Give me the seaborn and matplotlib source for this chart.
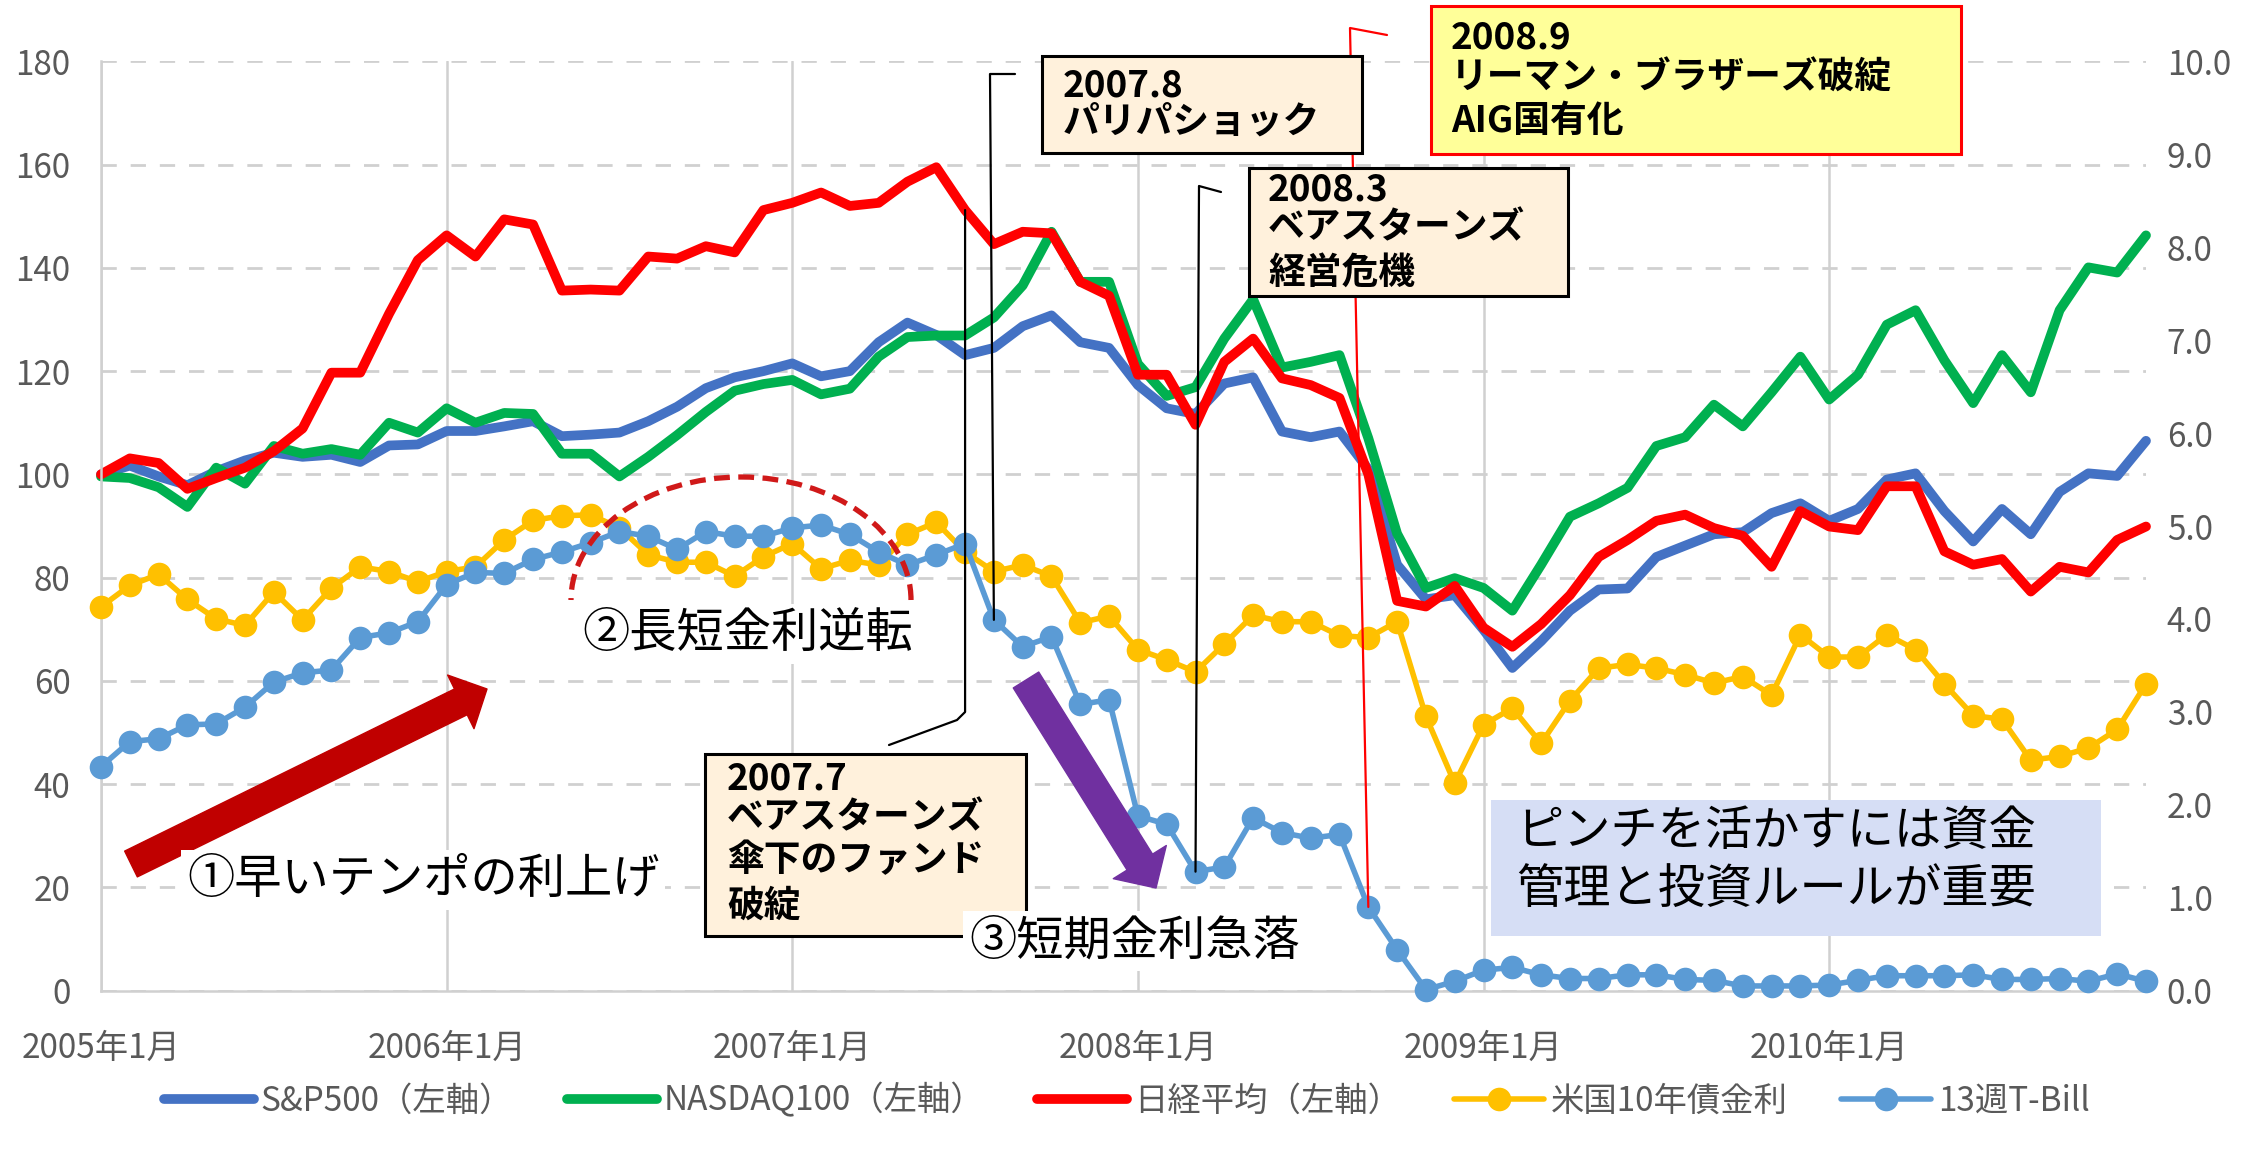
import matplotlib
matplotlib.use("Agg")
import matplotlib.pyplot as plt
from matplotlib.patches import Rectangle, Arc, FancyArrowPatch
from matplotlib.lines import Line2D
import seaborn as sns
import numpy as np

# monthly data, 2005-01 .. 2010-12 (index 0..71)
months = list(range(72))
year_ticks = [0, 12, 24, 36, 48, 60]
year_labels = ["2005年1月", "2006年1月", "2007年1月", "2008年1月", "2009年1月", "2010年1月"]

# left axis (2005-01 = 100)
sp500 = [100.0, 101.7, 99.6, 97.9, 100.6, 102.7, 104.2, 103.4, 103.8, 102.4, 105.6, 105.8,
         108.4, 108.4, 109.3, 110.3, 107.4, 107.7, 108.1, 110.3, 113.1, 116.7, 118.8, 120.0,
         121.5, 119.0, 120.0, 125.6, 129.4, 127.0, 123.1, 124.5, 128.7, 130.8, 125.6, 124.5,
         117.3, 112.8, 111.7, 117.6, 118.8, 108.3, 107.2, 108.3, 101.0, 82.5, 75.8, 76.6,
         69.9, 62.5, 67.7, 73.6, 77.7, 77.9, 84.0, 86.2, 88.4, 88.8, 92.5, 94.4,
         91.0, 93.3, 99.0, 100.2, 92.9, 87.0, 93.3, 88.4, 96.6, 100.2, 99.7, 106.5]
nasdaq100 = [99.6, 99.3, 97.5, 93.7, 101.3, 98.2, 105.5, 104.0, 104.9, 103.8, 110.0, 108.1,
             112.8, 110.0, 111.9, 111.7, 104.0, 104.0, 99.6, 103.4, 107.6, 112.1, 116.2, 117.5,
             118.3, 115.5, 116.6, 122.8, 126.6, 126.9, 126.9, 130.4, 136.6, 147.0, 137.3, 137.3,
             121.4, 115.2, 116.9, 126.3, 133.9, 120.7, 121.8, 123.1, 107.0, 88.5, 78.0, 79.9,
             78.0, 73.6, 82.5, 91.8, 94.4, 97.4, 105.5, 107.2, 113.5, 109.3, 115.9, 122.8,
             114.5, 119.3, 129.0, 131.8, 122.1, 113.8, 123.1, 115.9, 131.8, 140.1, 139.1, 146.3]
nikkei = [100.0, 103.1, 102.2, 97.2, 99.3, 101.3, 104.5, 108.9, 119.7, 119.7, 131.1, 141.5,
          146.3, 142.2, 149.4, 148.4, 135.6, 135.8, 135.6, 142.2, 141.8, 144.2, 143.0, 151.2,
          152.6, 154.6, 152.0, 152.6, 156.7, 159.5, 151.2, 144.6, 147.0, 146.7, 137.3, 134.6,
          119.3, 119.3, 109.6, 121.8, 126.3, 118.6, 117.3, 114.8, 100.0, 75.5, 74.4, 78.4,
          70.3, 66.6, 71.0, 76.6, 84.0, 87.3, 91.0, 92.2, 89.6, 88.1, 82.1, 92.9,
          89.9, 89.2, 97.7, 97.7, 85.1, 82.5, 83.6, 77.3, 82.1, 81.0, 87.3, 89.9]

# right axis (%)
us10y = [4.13, 4.36, 4.48, 4.21, 4.00, 3.93, 4.29, 3.99, 4.33, 4.56, 4.51, 4.40,
         4.51, 4.56, 4.85, 5.06, 5.11, 5.12, 4.98, 4.69, 4.61, 4.61, 4.46, 4.67,
         4.81, 4.54, 4.63, 4.58, 4.91, 5.04, 4.72, 4.51, 4.58, 4.46, 3.96, 4.03,
         3.67, 3.56, 3.43, 3.73, 4.04, 3.97, 3.97, 3.82, 3.80, 3.97, 2.95, 2.23,
         2.86, 3.04, 2.66, 3.12, 3.47, 3.51, 3.47, 3.40, 3.31, 3.38, 3.18, 3.83,
         3.59, 3.59, 3.83, 3.67, 3.30, 2.96, 2.92, 2.48, 2.52, 2.61, 2.81, 3.30]
tbill13w = [2.41, 2.68, 2.71, 2.86, 2.87, 3.05, 3.32, 3.42, 3.45, 3.80, 3.85, 3.97,
            4.37, 4.50, 4.49, 4.64, 4.72, 4.82, 4.94, 4.89, 4.75, 4.94, 4.89, 4.89,
            4.98, 5.01, 4.91, 4.72, 4.58, 4.69, 4.81, 3.99, 3.70, 3.81, 3.08, 3.13,
            1.88, 1.79, 1.28, 1.33, 1.86, 1.70, 1.64, 1.68, 0.90, 0.44, 0.01, 0.10,
            0.22, 0.25, 0.17, 0.13, 0.13, 0.17, 0.17, 0.12, 0.11, 0.05, 0.05, 0.05,
            0.06, 0.11, 0.16, 0.16, 0.16, 0.17, 0.12, 0.12, 0.13, 0.10, 0.18, 0.10]

series_labels = ["S&P500（左軸）", "NASDAQ100（左軸）", "日経平均（左軸）", "米国10年債金利", "13週T-Bill"]
colors = ["#4472C4", "#00B050", "#FF0000", "#FFC000", "#5B9BD5"]

sns.set_style("white")
plt.rcParams["font.family"] = ["Noto Sans CJK JP", "DejaVu Sans"]

W, H = 2254, 1157
GRAY_TXT = "#595959"
GRID = "#D0D0D0"
LW_IDX, LW_RATE, MS = 7, 4, 17


def px(x, y):
    # image pixel (y down) -> figure fraction
    return (x / W, 1 - y / H)


fig = plt.figure(figsize=(W / 100, H / 100), dpi=100, facecolor="white")
ax = fig.add_axes([101 / W, 1 - 990.6 / H, (2146 - 101) / W, (990.6 - 61.4) / H])
ax2 = ax.twinx()

# equity lines (left axis)
for vals, c in zip([sp500, nasdaq100, nikkei], colors[:3]):
    sns.lineplot(x=months, y=vals, ax=ax, color=c, linewidth=LW_IDX)

# rates (right axis)
for vals, c in zip([us10y, tbill13w], colors[3:]):
    sns.lineplot(x=months, y=vals, ax=ax2, color=c, linewidth=LW_RATE,
                 marker="o", markersize=MS, markeredgewidth=0)

for a in (ax, ax2):
    for ln in a.lines:
        ln.set_clip_on(False)
        ln.set_solid_joinstyle("round")
    a.set_xlabel("")
    a.set_ylabel("")
for ln in ax2.lines:
    ln.set_markersize(MS)

ax.set_xlim(0, 71)
ax.set_ylim(0, 180)
ax2.set_ylim(0, 10)
ax.set_yticks(range(0, 181, 20))
ax2.set_yticks(np.arange(0, 10.5, 1.0))
ax2.set_yticklabels([f"{v:.1f}" for v in np.arange(0, 10.5, 1.0)])
ax.set_xticks(year_ticks)
ax.set_xticklabels(year_labels)

ax.set_axisbelow(True)
ax.yaxis.grid(True, color=GRID, linestyle=(0, (5.5, 5)), linewidth=2)
ax.xaxis.grid(True, color=GRID, linestyle="-", linewidth=1.8)
for s in ["top", "right"]:
    ax.spines[s].set_visible(False)
for s in ["left", "bottom"]:
    ax.spines[s].set_color(GRID)
    ax.spines[s].set_linewidth(1.8)
for s in ax2.spines.values():
    s.set_visible(False)

ax.tick_params(axis="x", length=9, width=1.8, color=GRID, pad=20, labelsize=24, labelcolor=GRAY_TXT)
ax.tick_params(axis="y", length=0, pad=22, labelsize=24, labelcolor=GRAY_TXT)
ax2.tick_params(axis="y", length=0, pad=15, labelsize=24, labelcolor=GRAY_TXT)


def data_fig(a, xv, yv):
    return fig.transFigure.inverted().transform(a.transData.transform((xv, yv)))


def note_box(x0, y0, x1, y1, lines, line_y, text_x, face, edge):
    fig.add_artist(Rectangle(px(x0, y1), (x1 - x0) / W, (y1 - y0) / H, transform=fig.transFigure,
                             facecolor=face, edgecolor=edge, linewidth=2.2, zorder=5))
    for t, ty in zip(lines, line_y):
        fig.text(*px(text_x, ty), t, fontsize=26.5, fontweight="bold", color="black",
                 ha="left", va="center", zorder=6)


def callout(points, color="black"):
    xs = [p[0] for p in points]
    ys = [p[1] for p in points]
    fig.add_artist(Line2D(xs, ys, transform=fig.transFigure, color=color, linewidth=1.6, zorder=4))


# callout lines
callout([px(1015, 74), px(990, 74), data_fig(ax2, 31, tbill13w[31])])
top_07 = data_fig(ax, 30, nikkei[30])
callout([px(889, 745), px(957, 720), (top_07[0], px(0, 712)[1]), top_07])
callout([px(1221, 192), px(1199, 186), data_fig(ax2, 38, tbill13w[38])])
callout([px(1387, 35), px(1350, 28), data_fig(ax2, 44, tbill13w[44])], color="#FF0000")

# event boxes
note_box(1042, 56, 1362, 153, ["2007.8", "パリパショック"], [86, 122], 1063, "#FFF1DC", "black")
note_box(705, 754, 1026, 936, ["2007.7", "ベアスターンズ", "傘下のファンド", "破綻"],
         [779, 818, 861, 906], 727, "#FFF1DC", "black")
note_box(1249, 168, 1568, 296, ["2008.3", "ベアスターンズ", "経営危機"], [190, 228, 273], 1268,
         "#FFF1DC", "black")
note_box(1431, 6, 1961, 154, ["2008.9", "リーマン・ブラザーズ破綻", "AIG国有化"], [38, 78, 121], 1451,
         "#FFFF99", "#FF0000")

# dashed ellipse around the inversion
fig.add_artist(Arc(px(741, 600), 340 / W, 246 / H, theta1=0, theta2=180, transform=fig.transFigure,
                   color="#D01919", linewidth=3.8, linestyle=(0, (3, 1.6)), zorder=4))

# big arrows
fig.add_artist(FancyArrowPatch(px(131, 864), px(487, 689), transform=fig.transFigure,
                               arrowstyle="simple,head_length=21,head_width=43,tail_width=20.7",
                               mutation_scale=1, color="#C00000", shrinkA=0, shrinkB=0, zorder=6))
fig.add_artist(FancyArrowPatch(px(1026, 680), px(1156, 888), transform=fig.transFigure,
                               arrowstyle="simple,head_length=22,head_width=45,tail_width=21.6",
                               mutation_scale=1, color="#7030A0", shrinkA=0, shrinkB=0, zorder=6))

# comments
fig.text(*px(187, 880), "①早いテンポの利上げ", fontsize=34, color="black", ha="left", va="center",
         bbox=dict(facecolor="white", edgecolor="none", pad=4), zorder=7)
fig.text(*px(582, 634), "②長短金利逆転", fontsize=34, color="black", ha="left", va="center",
         bbox=dict(facecolor="white", edgecolor="none", pad=4), zorder=7)
fig.text(*px(969, 941), "③短期金利急落", fontsize=34, color="black", ha="left", va="center",
         bbox=dict(facecolor="white", edgecolor="none", pad=4), zorder=7)

fig.add_artist(Rectangle(px(1491, 936), 610 / W, 136 / H, transform=fig.transFigure,
                         facecolor="#D6DEF5", edgecolor="none", zorder=5))
fig.text(*px(1516, 832), "ピンチを活かすには資金", fontsize=34, color="black", ha="left", va="center", zorder=6)
fig.text(*px(1516, 890), "管理と投資ルールが重要", fontsize=34, color="black", ha="left", va="center", zorder=6)

# legend
handles = [Line2D([], [], color=c, linewidth=LW_IDX) for c in colors[:3]]
handles += [Line2D([], [], color=c, linewidth=LW_RATE, marker="o", markersize=MS, markeredgewidth=0)
            for c in colors[3:]]
fig.legend(handles, series_labels, loc="center", bbox_to_anchor=(0.5, 1 - 1101 / H), ncol=5,
           frameon=False, fontsize=24, handlelength=2.7, handletextpad=0.2, columnspacing=1.6,
           labelcolor=GRAY_TXT, numpoints=1)

fig.savefig("out.png", dpi=100, facecolor="white")
